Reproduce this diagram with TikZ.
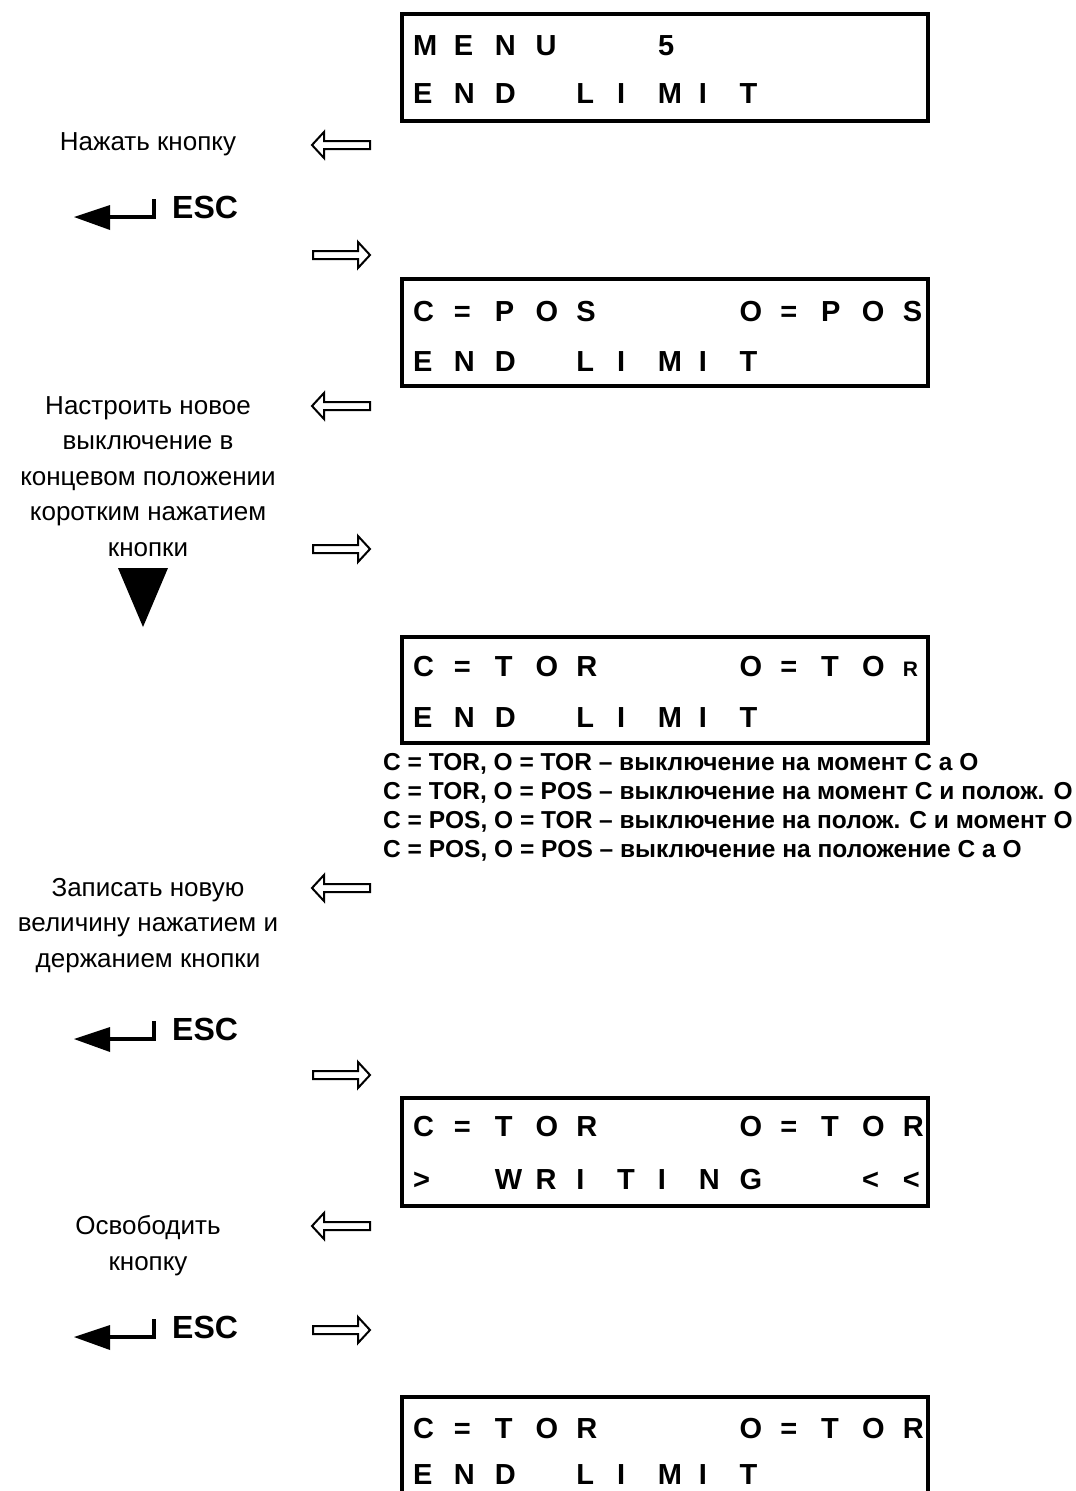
\documentclass[tikz,border=0pt]{standalone}
\usepackage{fontspec}
\setmainfont{Liberation Sans}
\newcommand\cellx[1]{\makebox[40.8pt][l]{#1}}
\newcommand\lcdfont{\fontsize{29}{32}\selectfont\bfseries}
\newcommand\lblfont{\fontsize{26}{35.5}\selectfont}
\newcommand\descfont{\fontsize{24.5}{29}\selectfont\bfseries}
\newcommand\escfont{\fontsize{32}{34}\selectfont\bfseries}
\begin{document}
\begin{tikzpicture}[x=1pt,y=-1pt,
  lcdbox/.style={draw,line width=4pt,inner sep=0pt,anchor=north west,minimum width=526pt},
  lcdtext/.style={font=\lcdfont,inner sep=0pt,anchor=base west},
  lbl/.style={font=\lblfont,align=center,inner sep=0pt,anchor=base},
  desc/.style={font=\descfont,inner sep=0pt,anchor=base west},
  esctext/.style={font=\escfont,inner sep=0pt,anchor=base west},
  hollow/.style={draw,line width=2pt,fill=white,line join=miter},
  escarrow/.style={line width=4.5pt,line join=miter}]
\useasboundingbox (0,0) rectangle (1076,1491);
\clip (0,0) rectangle (1076,1491);
\newcommand\hollowL[1]{\draw[hollow] (312,#1) -- (324,#1-13) -- (324,#1-4) -- (370,#1-4) -- (370,#1+4) -- (324,#1+4) -- (324,#1+13) -- cycle;}
\newcommand\hollowR[1]{\draw[hollow] (370,#1) -- (358,#1-13) -- (358,#1-4) -- (313,#1-4) -- (313,#1+4) -- (358,#1+4) -- (358,#1+13) -- cycle;}
\newcommand\escsym[2]{%
  \fill (74,#1-1) -- (110,#1-13) -- (110,#1+12) -- cycle;
  \draw[escarrow] (108,#1-1) -- (154,#1-1) -- (154,#1-19);
  \node[esctext] (#2) at (172,#1) {ESC};}

% LCD boxes
\node[lcdbox,minimum height=107pt] (box1) at (400,12) {};
\node[lcdtext] (r1a) at (413,55) {\cellx{M}\cellx{E}\cellx{N}\cellx{U}\cellx{}\cellx{}\cellx{5}};
\node[lcdtext] (r1b) at (413,103) {\cellx{E}\cellx{N}\cellx{D}\cellx{}\cellx{L}\cellx{I}\cellx{M}\cellx{I}\cellx{T}};

\node[lcdbox,minimum height=107pt] (box2) at (400,277) {};
\node[lcdtext] (r2a) at (413,321) {\cellx{C}\cellx{=}\cellx{P}\cellx{O}\cellx{S}\cellx{}\cellx{}\cellx{}\cellx{O}\cellx{=}\cellx{P}\cellx{O}\cellx{S}};
\node[lcdtext] (r2b) at (413,371) {\cellx{E}\cellx{N}\cellx{D}\cellx{}\cellx{L}\cellx{I}\cellx{M}\cellx{I}\cellx{T}};

\node[lcdbox,minimum height=106pt] (box3) at (400,635) {};
\node[lcdtext] (r3a) at (413,676) {\cellx{C}\cellx{=}\cellx{T}\cellx{O}\cellx{R}\cellx{}\cellx{}\cellx{}\cellx{O}\cellx{=}\cellx{T}\cellx{O}\cellx{\fontsize{21}{24}\selectfont R}};
\node[lcdtext] (r3b) at (413,727) {\cellx{E}\cellx{N}\cellx{D}\cellx{}\cellx{L}\cellx{I}\cellx{M}\cellx{I}\cellx{T}};

\node[lcdbox,minimum height=108pt] (box4) at (400,1096) {};
\node[lcdtext] (r4a) at (413,1136) {\cellx{C}\cellx{=}\cellx{T}\cellx{O}\cellx{R}\cellx{}\cellx{}\cellx{}\cellx{O}\cellx{=}\cellx{T}\cellx{O}\cellx{R}};
\node[lcdtext] (r4b) at (413,1189) {\cellx{>}\cellx{}\cellx{W}\cellx{R}\cellx{I}\cellx{T}\cellx{I}\cellx{N}\cellx{G}\cellx{}\cellx{}\cellx{<}\cellx{<}};

\node[lcdbox,minimum height=200pt] (box5) at (400,1395) {};
\node[lcdtext] (r5a) at (413,1438) {\cellx{C}\cellx{=}\cellx{T}\cellx{O}\cellx{R}\cellx{}\cellx{}\cellx{}\cellx{O}\cellx{=}\cellx{T}\cellx{O}\cellx{R}};
\node[lcdtext] (r5b) at (413,1484) {\cellx{E}\cellx{N}\cellx{D}\cellx{}\cellx{L}\cellx{I}\cellx{M}\cellx{I}\cellx{T}};

% description
\node[desc] (d1) at (383,770) {C = TOR, O = TOR – выключение на момент C а O};
\node[desc] (d2) at (383,799) {C = TOR, O = POS – выключение на момент C и полож. O};
\node[desc] (d3) at (383,828) {C = POS, O = TOR – выключение на полож. C и момент O};
\node[desc] (d4) at (383,857) {C = POS, O = POS – выключение на положение C а O};

% left labels (anchor = baseline of last line)
\node[lbl] (l1) at (148,150) {Нажать кнопку};
\node[lbl] (l2) at (148,556) {Настроить новое\\выключение в\\концевом положении\\коротким нажатием\\кнопки};
\node[lbl] (l3) at (148,967) {Записать новую\\величину нажатием и\\держанием кнопки};
\node[lbl] (l4) at (148,1270) {Освободить\\кнопку};

% ESC symbols
\escsym{218}{esc1}
\escsym{1040}{esc2}
\escsym{1338}{esc3}

% triangle
\fill (118,568) -- (168,568) -- (143,627) -- cycle;

% hollow arrows
\hollowL{145}
\hollowR{255}
\hollowL{406}
\hollowR{549}
\hollowL{888}
\hollowR{1075}
\hollowL{1226}
\hollowR{1330}
\end{tikzpicture}
\end{document}
